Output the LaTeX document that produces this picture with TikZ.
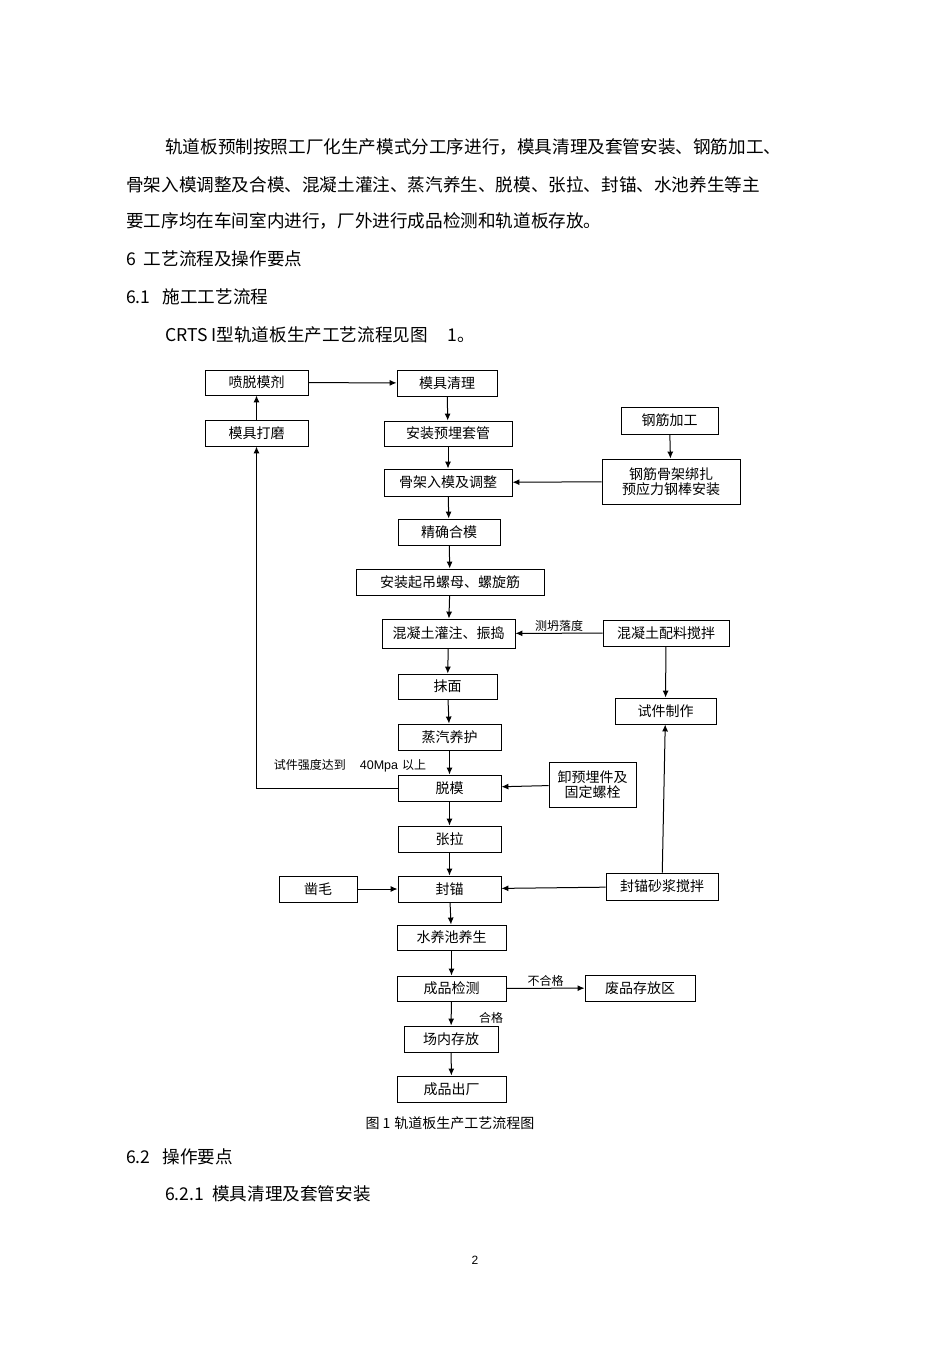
\documentclass[tikz,border=0pt]{standalone}
\usepackage{fontspec}
\setmainfont{Liberation Sans}
\newfontfamily\cjk{Noto Sans CJK SC}
\usetikzlibrary{arrows.meta}
\begin{document}
\begin{tikzpicture}[x=1pt,y=-1pt,
  box/.style={draw,line width=0.9pt,inner sep=1pt,font=\cjk\fontsize{14}{15.5}\selectfont,align=center},
  body/.style={anchor=west,inner sep=0,font=\cjk\fontsize{17.6}{19}\selectfont},
  lab/.style={inner sep=1pt,font=\cjk\fontsize{12}{13}\selectfont},
  arr/.style={-{Latex[length=7pt,width=6pt]},line width=1pt}]
\useasboundingbox[fill=white] (0,0) rectangle (950,1345);
% text
\node[body] (t1) at (165,147) {轨道板预制按照工厂化生产模式分工序进行，模具清理及套管安装、钢筋加工、};
\node[body] (t2) at (126,185) {骨架入模调整及合模、混凝土灌注、蒸汽养生、脱模、张拉、封锚、水池养生等主};
\node[body] (t3) at (126,221) {要工序均在车间室内进行，厂外进行成品检测和轨道板存放。};
\node[body] (t4) at (126,259) {6\hspace{8pt}工艺流程及操作要点};
\node[body] (t5) at (126,297) {6.1\hspace{12pt}施工工艺流程};
\node[body] (t6) at (165,335) {CRTS I型轨道板生产工艺流程见图\hspace{20pt}1。};
\node[lab,font=\cjk\fontsize{14}{15}\selectfont] (cap) at (450,1123) {图 1\hspace{4pt}轨道板生产工艺流程图};
\node[body] (t7) at (126,1157) {6.2\hspace{12pt}操作要点};
\node[body] (t8) at (165,1194) {6.2.1\hspace{8pt}模具清理及套管安装};
\node[lab,font=\fontsize{12}{14}\selectfont] (pg) at (475,1260) {2};
% boxes
\node[box,minimum width=103,minimum height=25] (a) at (256.5,382.5) {喷脱模剂};
\node[box,minimum width=100,minimum height=26] (b) at (447,383) {模具清理};
\node[box,minimum width=103,minimum height=26] (c) at (256.5,433) {模具打磨};
\node[box,minimum width=128,minimum height=25] (d) at (448,433.5) {安装预埋套管};
\node[box,minimum width=97,minimum height=27] (e) at (669.5,420.5) {钢筋加工};
\node[box,minimum width=128,minimum height=27] (f) at (448,482.5) {骨架入模及调整};
\node[box,minimum width=138,minimum height=45] (g) at (671,481.5) {钢筋骨架绑扎\\预应力钢棒安装};
\node[box,minimum width=102,minimum height=26] (h) at (449,532) {精确合模};
\node[box,minimum width=188,minimum height=26] (i) at (450,582) {安装起吊螺母、螺旋筋};
\node[box,minimum width=133,minimum height=29] (j) at (448.5,633.5) {混凝土灌注、振捣};
\node[box,minimum width=126,minimum height=26] (k) at (666,633) {混凝土配料搅拌};
\node[box,minimum width=99,minimum height=25] (l) at (447.5,686.5) {抹面};
\node[box,minimum width=101,minimum height=26] (m) at (665.5,711) {试件制作};
\node[box,minimum width=103,minimum height=26] (n) at (449.5,737) {蒸汽养护};
\node[box,minimum width=103,minimum height=26] (o) at (449.5,788) {脱模};
\node[box,minimum width=87,minimum height=45] (p) at (592.5,784.5) {卸预埋件及\\固定螺栓};
\node[box,minimum width=103,minimum height=26] (q) at (449.5,839) {张拉};
\node[box,minimum width=78,minimum height=26] (r) at (318,889) {凿毛};
\node[box,minimum width=103,minimum height=26] (s) at (449.5,889) {封锚};
\node[box,minimum width=112,minimum height=27] (u) at (662,886.5) {封锚砂浆搅拌};
\node[box,minimum width=109,minimum height=25] (v) at (451.5,937.5) {水养池养生};
\node[box,minimum width=109,minimum height=25] (w) at (451.5,988.5) {成品检测};
\node[box,minimum width=110,minimum height=26] (x) at (640,988) {废品存放区};
\node[box,minimum width=94,minimum height=26] (y) at (451,1039) {场内存放};
\node[box,minimum width=109,minimum height=26] (z) at (451.5,1089) {成品出厂};
% connectors
\draw[arr] (a) -- (b);
\draw[arr] (c) -- (a);
\draw[arr] (b) -- (d);
\draw[arr] (d) -- (f);
\draw[arr] (f) -- (h);
\draw[arr] (h) -- (i);
\draw[arr] (i) -- (j);
\draw[arr] (j) -- (l);
\draw[arr] (l) -- (n);
\draw[arr] (n) -- (o);
\draw[arr] (o) -- (q);
\draw[arr] (q) -- (s);
\draw[arr] (s) -- (v);
\draw[arr] (v) -- (w);
\draw[arr] (w) -- (y);
\draw[arr] (y) -- (z);
\draw[arr] (e) -- (g);
\draw[arr] (g) -- (f);
\draw[arr] (k) -- node[lab,above] {测坍落度} (j);
\draw[arr] (k) -- (m);
\draw[arr] (u) -- (m);
\draw[arr] (u) -- (s);
\draw[arr] (r) -- (s);
\draw[arr] (p) -- (o);
\draw[arr] (w) -- node[lab,above] {不合格} (x);
\draw[arr] (o.west) -| (c.south);
\node[lab] (sl) at (350,766) {试件强度达到\hspace{14pt}{\rmfamily\fontsize{12.5}{14}\selectfont 40Mpa}\hspace{4pt}以上};
\node[lab] (hg) at (491,1018) {合格};
\end{tikzpicture}
\end{document}
